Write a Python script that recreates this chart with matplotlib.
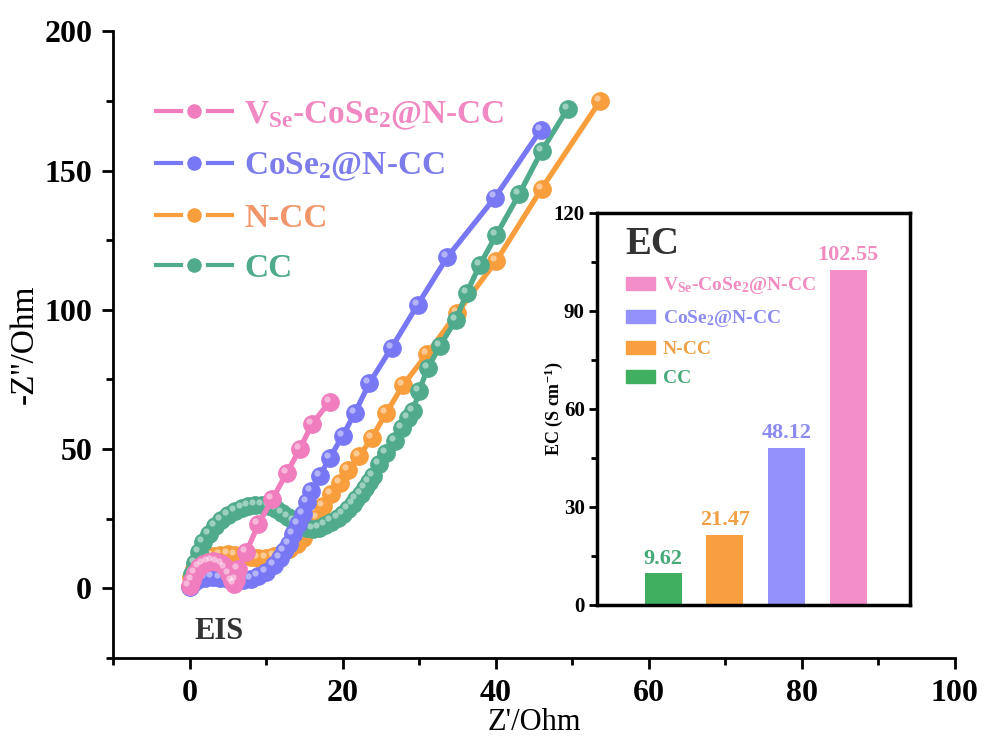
import matplotlib
matplotlib.use('Agg')
import matplotlib.pyplot as plt
from matplotlib.ticker import MultipleLocator
from matplotlib.patches import Patch
from matplotlib.lines import Line2D
import matplotlib.transforms as mtransforms

plt.rcParams['font.family'] = ['Liberation Serif', 'DejaVu Serif']
plt.rcParams['mathtext.fontset'] = 'custom'
plt.rcParams['mathtext.rm'] = 'Liberation Serif:bold'
plt.rcParams['mathtext.bf'] = 'Liberation Serif:bold'
plt.rcParams['mathtext.it'] = 'Liberation Serif:bold'

# ---- EIS data ----
vse_x = [0.0, 0.3, 0.7, 1.2, 1.8, 2.4, 3.0, 3.6, 4.2, 4.7, 5.1, 5.5, 5.8, 6.1, 6.3,
         7.4, 9.0, 10.8, 12.7, 14.4, 16.0, 18.3]
vse_y = [1.0, 3.0, 5.5, 7.5, 8.8, 9.5, 9.8, 9.6, 8.8, 7.2, 5.0, 2.8, 1.5, 3.0, 7.0,
         13.0, 23.0, 32.0, 41.4, 50.0, 59.0, 67.0]

co_x = [0.0, 0.5, 1.0, 2.0, 3.0, 4.0, 5.0, 6.0, 7.0, 8.0, 9.0, 10.0, 11.0, 11.8,
        12.4, 13.0, 13.5, 14.2, 14.8, 15.4, 15.9, 17.0, 18.3, 20.0, 21.6, 23.5,
        26.4, 29.8, 33.7, 39.9, 45.9]
co_y = [0.5, 2.0, 3.0, 3.8, 4.0, 3.8, 3.3, 3.0, 3.0, 3.5, 4.5, 6.0, 8.5, 11.0,
        13.3, 16.0, 19.4, 23.0, 26.6, 31.0, 34.9, 40.3, 46.8, 54.7, 63.0, 73.7,
        86.4, 101.8, 119.0, 140.3, 164.6]

ncc_x = [0.2, 0.6, 1.2, 2.0, 3.0, 4.0, 5.0, 6.0, 7.0, 8.0, 9.0, 10.0, 11.0, 12.0,
         13.0, 14.0, 14.8, 15.7, 16.6, 17.4, 18.5, 19.6, 20.7, 22.2, 23.8, 25.7,
         27.9, 31.0, 35.0, 40.1, 46.0, 53.6]
ncc_y = [4.0, 7.0, 9.0, 10.5, 11.5, 12.0, 12.2, 12.0, 11.6, 11.2, 11.0, 11.0, 11.5,
         12.5, 14.0, 16.0, 18.0, 21.5, 25.2, 29.5, 33.8, 37.8, 42.4, 47.5, 54.0,
         63.0, 73.0, 84.0, 99.0, 117.6, 143.5, 174.8]

cc_x = [0.3, 0.7, 1.2, 1.8, 2.5, 3.3, 4.1, 5.0, 5.9, 6.8, 7.7, 8.6, 9.5, 10.4,
        11.3, 12.1, 12.9, 13.7, 14.5, 15.3, 16.1, 16.9, 17.7, 18.5, 19.4, 20.1,
        20.7, 21.3, 21.8, 22.4, 22.9, 23.5, 24.0, 24.8, 25.7, 26.8, 27.8, 28.6,
        29.2, 30.0, 31.1, 32.7, 34.8, 36.2, 37.9, 40.1, 43.1, 46.0, 49.4]
cc_y = [5.0, 9.0, 13.0, 16.5, 19.5, 22.3, 24.5, 26.4, 27.8, 28.9, 29.6, 30.0, 30.0,
        29.5, 28.4, 27.0, 25.6, 24.0, 22.6, 21.7, 21.2, 21.5, 22.6, 24.0, 25.2,
        26.8, 28.4, 30.2, 32.0, 34.0, 36.0, 38.2, 40.3, 44.6, 48.6, 52.9, 57.6,
        61.0, 63.7, 70.9, 79.0, 87.0, 96.4, 106.0, 116.0, 127.0, 141.7, 157.0, 172.2]

labels = [r'V$_{\mathbf{Se}}$-CoSe$_{\mathbf{2}}$@N-CC', r'CoSe$_{\mathbf{2}}$@N-CC', 'N-CC', 'CC']
line_colors = ['#F07DBE', '#7878F5', '#F89E3C', '#50AA8C']
text_colors = ['#F088C2', '#7C7CEA', '#F0966A', '#50AA8C']

# ---- EC bar data ----
ec_names = ['CC', 'N-CC', 'CoSe2@N-CC', 'VSe-CoSe2@N-CC']
ec_values = [9.62, 21.47, 48.12, 102.55]
ec_labels = ['9.62', '21.47', '48.12', '102.55']
bar_colors = ['#40B060', '#F8A040', '#9292FA', '#F48EC8']
bar_text_colors = ['#46AA78', '#F0A046', '#8C8CF0', '#F08CC0']

fig = plt.figure(figsize=(9.87, 7.44), dpi=100)
ax = fig.add_axes([0.1145, 0.1156, 0.853, 0.8424])

# drawn bottom to top: N-CC, CC, CoSe2@N-CC, VSe-CoSe2@N-CC
series = [(ncc_x, ncc_y, 2), (cc_x, cc_y, 3), (co_x, co_y, 1), (vse_x, vse_y, 0)]
hl = mtransforms.offset_copy(ax.transData, fig=fig, x=-2.2, y=2.2, units='points')
z = 3
for xs, ys, ci in series:
    ax.plot(xs, ys, '-o', color=line_colors[ci], lw=3.8, ms=12.5,
            mec=line_colors[ci], zorder=z)
    ax.plot(xs, ys, 'o', color='white', alpha=0.45, ms=4.5, mec='none',
            transform=hl, zorder=z + 0.5)
    z += 1

ax.set_xlim(-10, 100)
ax.set_ylim(-25, 200)
ax.xaxis.set_major_locator(MultipleLocator(20))
ax.xaxis.set_minor_locator(MultipleLocator(10))
ax.yaxis.set_major_locator(MultipleLocator(50))
ax.yaxis.set_minor_locator(MultipleLocator(25))
ax.spines['top'].set_visible(False)
ax.spines['right'].set_visible(False)
for s in ['left', 'bottom']:
    ax.spines[s].set_linewidth(2)
ax.tick_params(which='major', direction='out', length=8, width=2, labelsize=23, pad=7)
ax.tick_params(which='minor', direction='out', length=5, width=2)
for t in ax.get_xticklabels() + ax.get_yticklabels():
    t.set_fontweight('bold')
ax.set_xlabel("Z'/Ohm", fontsize=22, labelpad=0)
ax.set_ylabel("-Z''/Ohm", fontsize=24, labelpad=3)

# legend handle: line broken around the marker
handles = [Line2D([], [], color=line_colors[i], lw=3, marker='o', ms=13.5,
                  mec='white', mew=3) for i in range(4)]
leg = ax.legend(handles, labels, loc='upper left', bbox_to_anchor=(0.015, 0.94),
                frameon=False, prop={'size': 24, 'weight': 'bold'},
                handlelength=2.3, handletextpad=0.35, labelspacing=0.58)
for t, c in zip(leg.get_texts(), text_colors):
    t.set_color(c)

ax.text(3.8, -15.5, 'EIS', fontsize=22, fontweight='bold', color='#333333',
        ha='center', va='center')

# ---- inset: EC ----
ins = fig.add_axes([0.605, 0.187, 0.317, 0.527])
pos = [1, 2, 3, 4]
ins.bar(pos, ec_values, width=0.6, color=bar_colors)
for p, v, l, c in zip(pos, ec_values, ec_labels, bar_text_colors):
    ins.text(p, v + 1.5, l, ha='center', va='bottom', fontsize=16,
             fontweight='bold', color=c)
ins.set_xlim(-0.07, 5.0)
ins.set_ylim(0, 120)
ins.set_xticks([])
ins.yaxis.set_major_locator(MultipleLocator(30))
ins.yaxis.set_minor_locator(MultipleLocator(15))
for s in ins.spines.values():
    s.set_linewidth(2.5)
ins.tick_params(which='major', direction='out', length=6, width=2, labelsize=15, pad=3)
ins.tick_params(which='minor', direction='out', length=4, width=2)
for t in ins.get_yticklabels():
    t.set_fontweight('bold')
ins.set_ylabel(r'EC (S cm$^{\mathbf{-1}}$)', fontsize=13, fontweight='bold', labelpad=-8)
ins.text(0.09, 0.92, 'EC', transform=ins.transAxes, fontsize=28, fontweight='bold',
         color='#333333', ha='left', va='center')

patches = [Patch(color=bar_colors[3]), Patch(color=bar_colors[2]),
           Patch(color=bar_colors[1]), Patch(color=bar_colors[0])]
ileg = ins.legend(patches, labels, loc='upper left', bbox_to_anchor=(0.035, 0.885),
                  frameon=False, prop={'size': 14, 'weight': 'bold'},
                  handlelength=1.5, handleheight=0.65, handletextpad=0.4,
                  labelspacing=0.6)
for t, c in zip(ileg.get_texts(), [bar_text_colors[3], bar_text_colors[2],
                                    bar_text_colors[1], bar_text_colors[0]]):
    t.set_color(c)

fig.savefig('out.png', dpi=100)
